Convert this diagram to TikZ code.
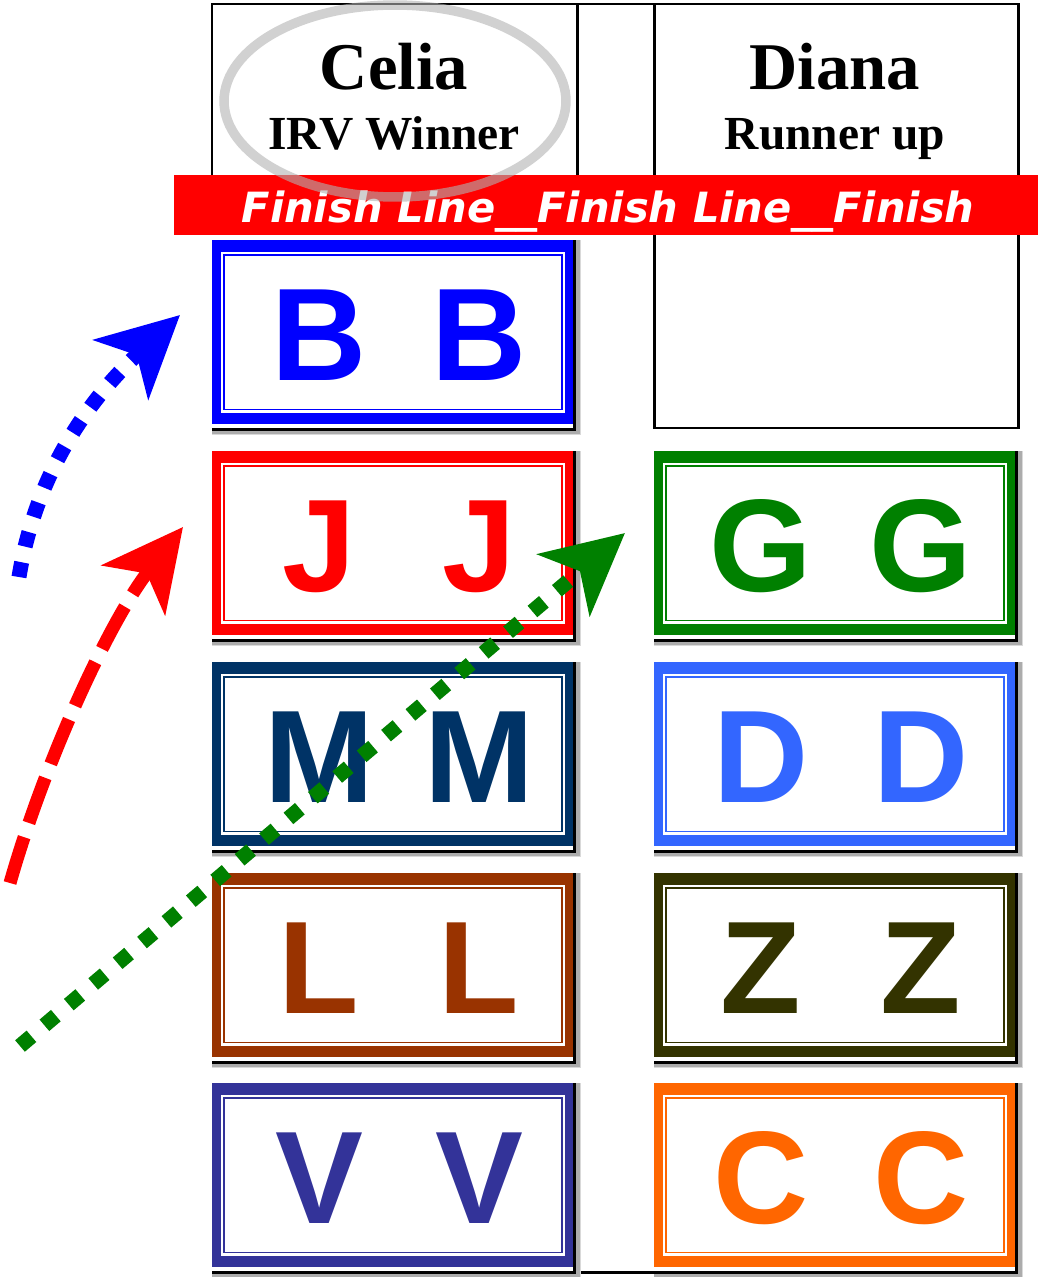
\documentclass[tikz,border=0pt]{standalone}
\usepackage{fontspec}
\setmainfont{Liberation Serif}
\setsansfont{Liberation Sans}
\newfontfamily\bannerfont{DejaVu Sans Bold Oblique}
\usetikzlibrary{arrows.meta,calc}

\definecolor{cB}{RGB}{0,0,255}
\definecolor{cJ}{RGB}{255,0,0}
\definecolor{cM}{RGB}{0,51,102}
\definecolor{cL}{RGB}{153,51,0}
\definecolor{cV}{RGB}{51,51,153}
\definecolor{cG}{RGB}{0,128,0}
\definecolor{cD}{RGB}{51,102,255}
\definecolor{cZ}{RGB}{51,51,0}
\definecolor{cC}{RGB}{255,102,0}

\begin{document}
\begin{tikzpicture}[x=0.02cm,y=-0.02cm,
  tableline/.style={line width=1.7pt,line join=miter},
  letter/.style={font=\sffamily\bfseries\fontsize{75}{75}\selectfont,inner sep=0pt,anchor=base},
  headbig/.style={font=\bfseries\fontsize{38}{38}\selectfont,inner sep=0pt,anchor=base},
  headsmall/.style={font=\bfseries\fontsize{27}{27}\selectfont,inner sep=0pt,anchor=base},
  bigtip/.style={-{Stealth[length=1.6cm,width=1.6cm,inset=0.42cm]}}]
\useasboundingbox (0,0) rectangle (1038,1277);
% Table
\draw[tableline] (212,175) -- (212,4) -- (1018,4) -- (1018,428) -- (654,428) -- (654,4);
\draw[tableline] (577,4) -- (577,175);
\draw[tableline] (212,1272) -- (1018,1272);
% Tiles with shadow and double frame
\foreach \x/\y/\ltr/\col/\nm in {212/240/B/cB/b,212/451/J/cJ/j,212/662/M/cM/m,212/873/L/cL/l,212/1083/V/cV/v,
  654/451/G/cG/g,654/662/D/cD/d,654/873/Z/cZ/z,654/1083/C/cC/c} {
  \fill[gray!30] (\x,\y) rectangle ++(369,195);
  \fill[gray!65] (\x,\y) rectangle ++(367.5,193.5);
  \fill[black] (\x,\y) rectangle ++(364,191);
  \fill[white] (\x,\y) rectangle ++(361,188);
  \fill[\col] (\x,\y) rectangle ++(361,184);
  \fill[white] (\x+9,\y+12) rectangle (\x+353,\y+172.5);
  \draw[\col,line width=1.1pt] (\x+12,\y+15) rectangle (\x+350,\y+169.5);
  \node[letter,text=\col] (\nm1) at (\x+107,\y+140) {\ltr};
  \node[letter,text=\col] (\nm2) at (\x+267,\y+140) {\ltr};
}
% Finish line
\fill[red] (174,175) rectangle (1038,235);
\node[font=\bannerfont\fontsize{23.7}{24}\selectfont,text=white,inner sep=0pt,anchor=base] (finish) at (608,222)
  {Finish Line\_\_Finish Line\_\_Finish};
% Winner ring
\draw[gray!60,opacity=0.6,line width=0.19cm] (395,101) ellipse [x radius=3.42cm,y radius=1.92cm];
% Headings
\node[headbig] (celia) at (394,90) {Celia};
\node[headsmall] (irv) at (394,150) {IRV Winner};
\node[headbig] (diana) at (835,90) {Diana};
\node[headsmall] (runner) at (835,150) {Runner up};
% Transfer arrows
\coordinate (blueS) at (19,577);
\coordinate (blueT) at (180,315);
\coordinate (redS) at (10,883);
\coordinate (redT) at (183,527);
\coordinate (greenS) at (20,1046);
\coordinate (greenT) at (625,533);
\draw[cB,bigtip,line width=0.3cm,dash pattern=on 0.3cm off 0.32cm] (blueS) .. controls (33,490) and (75,412) .. (blueT);
\draw[cJ,bigtip,line width=0.26cm,dash pattern=on 0.96cm off 0.3cm] (redS) .. controls (45,760) and (110,620) .. (redT);
\draw[cG,bigtip,line width=0.3cm,dash pattern=on 0.3cm off 0.34cm] (greenS) -- (greenT);
\end{tikzpicture}
\end{document}
